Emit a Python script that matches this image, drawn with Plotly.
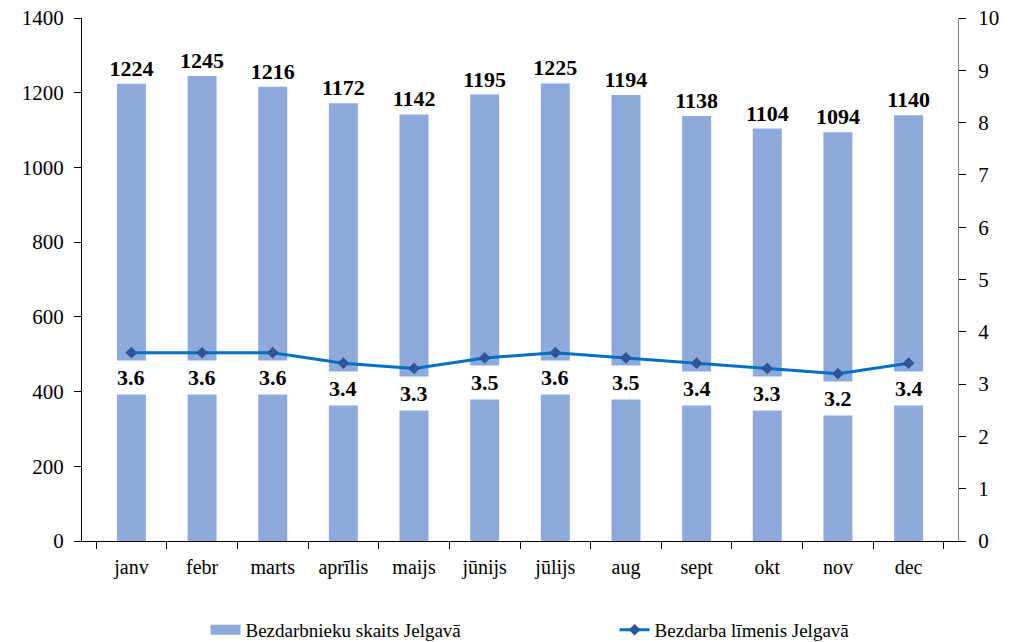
import plotly.graph_objects as go

months = ["janv", "febr", "marts", "aprīlis", "maijs", "jūnijs", "jūlijs", "aug", "sept", "okt", "nov", "dec"]
unemployed = [1224, 1245, 1216, 1172, 1142, 1195, 1225, 1194, 1138, 1104, 1094, 1140]
rate = [3.6, 3.6, 3.6, 3.4, 3.3, 3.5, 3.6, 3.5, 3.4, 3.3, 3.2, 3.4]

FONT = "Liberation Serif"
BAR_COLOR = "#8EA9DB"

fig = go.Figure()
fig.add_trace(go.Bar(
    x=months, y=unemployed, name="Bezdarbnieku skaits Jelgavā",
    marker=dict(color=BAR_COLOR, line=dict(width=0)), width=0.41,
    text=[str(v) for v in unemployed], textposition="outside", constraintext="none",
    textfont=dict(family=FONT, size=22, color="black", weight="bold"),
    cliponaxis=False, showlegend=False,
))
# legend entry with a wide swatch like the original
fig.add_trace(go.Scatter(
    x=[None], y=[None], name="Bezdarbnieku skaits Jelgavā", mode="lines",
    line=dict(color=BAR_COLOR, width=10), legend="legend", hoverinfo="skip",
))
fig.add_trace(go.Scatter(
    x=months, y=rate, name="Bezdarba līmenis Jelgavā", yaxis="y2",
    mode="lines+markers",
    line=dict(color="#0070C0", width=3),
    marker=dict(symbol="diamond", size=9, color="#2F5597"),
    legend="legend2",
))

for m, r in zip(months, rate):
    fig.add_annotation(
        x=m, y=r, xref="x", yref="y2", text=f"<b>{r}</b>", showarrow=False,
        yshift=-25, bgcolor="white", borderpad=4,
        font=dict(family=FONT, size=22, color="black"),
    )

axis_font = dict(family=FONT, size=21, color="black")
fig.update_layout(
    width=1016, height=642,
    margin=dict(l=82, r=58, t=18, b=101, autoexpand=False),
    plot_bgcolor="white", paper_bgcolor="white",
    font=dict(family=FONT, size=19, color="black"),
    showlegend=True,
    legend=dict(orientation="h", x=0.141, xanchor="left", y=-0.17, yanchor="middle",
                font=dict(family=FONT, size=19)),
    legend2=dict(orientation="h", x=0.608, xanchor="left", y=-0.17, yanchor="middle",
                 font=dict(family=FONT, size=19)),
    xaxis=dict(showline=True, linecolor="black", linewidth=1, ticks="outside",
               tickson="boundaries", ticklen=7, tickcolor="black", automargin=False,
               ticklabelstandoff=8,
               tickfont=dict(family=FONT, size=20, color="black")),
    yaxis=dict(range=[0, 1400], dtick=200, showgrid=False, showline=True, linecolor="black",
               ticks="outside", ticklen=7, tickcolor="black", zeroline=False, automargin=False,
               ticklabelstandoff=6, tickfont=axis_font),
    yaxis2=dict(range=[0, 10], dtick=1, overlaying="y", side="right", showgrid=False,
                showline=True, linecolor="#808080", ticks="outside", ticklen=7,
                tickcolor="black", zeroline=False, automargin=False,
                ticklabelstandoff=8, tickfont=axis_font),
)

fig.write_html("out.html", config={"displayModeBar": False},
               post_script="document.body.style.margin='0';")
